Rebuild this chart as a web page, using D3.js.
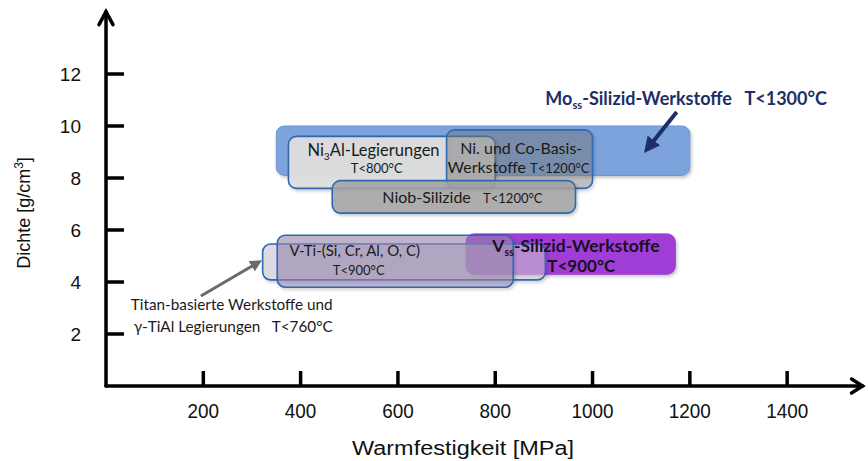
<!DOCTYPE html>
<html><head><meta charset="utf-8">
<script src="https://cdn.jsdelivr.net/npm/d3@7/dist/d3.min.js"></script>
<style>
body{margin:0;background:#fff;}
svg{display:block;}
</style></head>
<body>
<svg id="chart" width="868" height="461"></svg>
<script>
// ---- data ----
const materials   = ["Mo_ss-Silizid", "Ni3Al", "NiCo", "Niob", "V_ss", "Titan", "VTi"];
const strengthMin = [350, 375, 700, 465, 740, 322, 352];
const strengthMax = [1200, 800, 1000, 965, 1170, 903, 837];
const densityMin  = [8.1, 7.6, 7.6, 6.65, 4.3, 4.08, 3.8];
const densityMax  = [10.0, 9.6, 9.85, 7.9, 5.85, 5.46, 5.8];
const xTicks = [200, 400, 600, 800, 1000, 1200, 1400];
const yTicks = [2, 4, 6, 8, 10, 12];
const xTitle = "Warmfestigkeit [MPa]";

const svg = d3.select("#chart");
const x = d3.scaleLinear().domain([0, 1560]).range([106, 865]);
const y = d3.scaleLinear().domain([0, 14.5]).range([386, 9]);

const defs = svg.append("defs");
const sh = defs.append("filter").attr("id","sh").attr("x","-10%").attr("y","-20%").attr("width","130%").attr("height","160%");
sh.append("feDropShadow").attr("dx",1.5).attr("dy",2).attr("stdDeviation",1.5).attr("flood-color","#000").attr("flood-opacity",0.22);
defs.append("marker").attr("id","ah").attr("viewBox","0 0 10 10").attr("refX",5).attr("refY",5)
  .attr("markerWidth",4).attr("markerHeight",4).attr("orient","auto")
  .append("path").attr("d","M0,0 L10,5 L0,10 z").attr("fill","#1c2f66");
defs.append("marker").attr("id","ahg").attr("viewBox","0 0 10 10").attr("refX",5).attr("refY",5)
  .attr("markerWidth",4).attr("markerHeight",4).attr("orient","auto")
  .append("path").attr("d","M0,0 L10,5 L0,10 z").attr("fill","#6b6b6b");

// ---- boxes ----
const styles = {
  "Mo_ss-Silizid": {fill:"#7ca3dc", op:1,    stroke:"#6d94cf", sw:1},
  "Ni3Al":         {fill:"#dedede", op:0.95, stroke:"#2e67b1", sw:1.6},
  "NiCo":          {fill:"#7a7a7a", op:0.42, stroke:"#2e67b1", sw:1.6},
  "Niob":          {fill:"#a3a3a3", op:0.85, stroke:"#2e67b1", sw:1.6},
  "V_ss":          {fill:"#a03dd6", op:1,    stroke:"#9a36cc", sw:1},
  "Titan":         {fill:"#d0cbd8", op:0.55, stroke:"#2e67b1", sw:1.6},
  "VTi":           {fill:"#9a88b2", op:0.55, stroke:"#2e67b1", sw:1.6}
};
const boxes = materials.map((m,i)=>({m, x0:strengthMin[i], x1:strengthMax[i], y0:densityMin[i], y1:densityMax[i]}));
svg.append("g").selectAll("rect").data(boxes).join("rect")
  .attr("x", d=>x(d.x0)).attr("y", d=>y(d.y1))
  .attr("width", d=>x(d.x1)-x(d.x0)).attr("height", d=>y(d.y0)-y(d.y1))
  .attr("rx", 8).attr("ry", 8)
  .attr("fill", d=>styles[d.m].fill).attr("fill-opacity", d=>styles[d.m].op)
  .attr("stroke", d=>styles[d.m].stroke).attr("stroke-width", d=>styles[d.m].sw)
  .attr("filter","url(#sh)");

// ---- axes ----
const ax = svg.append("g").attr("stroke","#000").attr("stroke-width",3.5).attr("fill","none").attr("stroke-linecap","round");
ax.append("line").attr("x1",x(0)).attr("x2",x(0)).attr("y1",y(0)).attr("y2",y(14.4));
ax.append("line").attr("x1",x(0)).attr("x2",x(1555)).attr("y1",y(0)).attr("y2",y(0));
ax.append("path").attr("d",`M${x(0)-7},${y(14.4)+13} L${x(0)},${y(14.4)} L${x(0)+7},${y(14.4)+13}`).attr("stroke-linejoin","miter");
ax.append("path").attr("d",`M${x(1555)-11},${y(0)-7} L${x(1555)},${y(0)} L${x(1555)-11},${y(0)+7}`);
ax.selectAll(".yt").data(yTicks).join("line").attr("x1",x(0)).attr("x2",x(0)+18).attr("y1",d=>y(d)).attr("y2",d=>y(d)).attr("stroke-linecap","butt");
ax.selectAll(".xt").data(xTicks).join("line").attr("x1",d=>x(d)).attr("x2",d=>x(d)).attr("y1",y(0)).attr("y2",y(0)-15).attr("stroke-linecap","butt");

const axFont = "'Liberation Sans', Arial, sans-serif";
svg.append("g").selectAll("text").data(yTicks).join("text")
  .attr("x", 81).attr("y", d=>y(d)+7).attr("text-anchor","end")
  .attr("font-family",axFont).attr("font-size",19).attr("fill","#111").text(d=>d);
svg.append("g").selectAll("text").data(xTicks).join("text")
  .attr("transform", d=>`translate(${x(d)},418) scale(0.9,1)`).attr("text-anchor","middle")
  .attr("font-family",axFont).attr("font-size",21).attr("fill","#111").text(d=>d);
svg.append("text").attr("x",352).attr("y",455)
  .attr("textLength",222).attr("lengthAdjust","spacingAndGlyphs")
  .attr("font-family",axFont).attr("font-size",20).attr("fill","#111").text(xTitle);
const yt = svg.append("text").attr("transform","translate(30,213) rotate(-90)").attr("text-anchor","middle")
  .attr("font-family",axFont).attr("font-size",18).attr("fill","#111");
yt.append("tspan").text("Dichte [g/cm");
yt.append("tspan").attr("font-size",12).attr("dy",-7).text("3");
yt.append("tspan").attr("dy",7).text("]");

// ---- labels ----
const lf = "Lato, 'Open Sans', sans-serif";
function lbl(px, py, parts, opt){
  const t = svg.append("text").attr("x",x(px)).attr("y",y(py)).attr("font-family",lf)
    .attr("font-size",opt.size).attr("font-weight",opt.bold?"bold":"normal").attr("fill",opt.color||"#1a1a1a");
  parts.forEach(p=>{
    const s = t.append("tspan").text(p.t);
    if(p.sub){ s.attr("font-size",opt.size*0.62).attr("dy",4); }
    if(p.after){ s.attr("dy",-4); }
    if(p.size){ s.attr("font-size",p.size); }
  });
  return t;
}
lbl(903, 10.8, [{t:"Mo"},{t:"ss",sub:true},{t:"-Silizid-Werkstoffe\u00a0\u00a0 T<1300\u00b0C",after:true}], {size:18,bold:true,color:"#1c2f66"});
lbl(414, 8.83, [{t:"Ni"},{t:"3",sub:true},{t:"Al-Legierungen",after:true}], {size:16.5});
lbl(503, 8.19, [{t:"T<800\u00b0C"}], {size:13});
lbl(728, 8.92, [{t:"Ni. und Co-Basis-"}], {size:16});
lbl(702, 8.19, [{t:"Werkstoffe "},{t:"T<1200\u00b0C",size:13}], {size:16});
lbl(568, 7.04, [{t:"Niob-Silizide\u00a0\u00a0 "},{t:"T<1200\u00b0C",size:13}], {size:16});
lbl(377, 5.0, [{t:"V-Ti-(Si, Cr, Al, O, C)"}], {size:15});
lbl(466, 4.27, [{t:"T<900\u00b0C"}], {size:13});
lbl(794, 5.15, [{t:"V"},{t:"ss",sub:true},{t:"-Silizid-Werkstoffe",after:true}], {size:17.5,bold:true,color:"#1a1022"});
lbl(907, 4.38, [{t:"T<900\u00b0C"}], {size:17,bold:true,color:"#1a1022"});
lbl(51, 2.92, [{t:"Titan-basierte Werkstoffe und"}], {size:15.3});
lbl(57, 2.08, [{t:"\u03b3-TiAl Legierungen\u00a0\u00a0 T<760\u00b0C"}], {size:15.3});

// ---- arrows ----
svg.append("line").attr("x1",x(1173)).attr("y1",y(10.54)).attr("x2",x(1116)).attr("y2",y(9.2))
  .attr("stroke","#1c2f66").attr("stroke-width",4).attr("marker-end","url(#ah)");
svg.append("line").attr("x1",x(195)).attr("y1",y(3.46)).attr("x2",x(310)).attr("y2",y(4.72))
  .attr("stroke","#6b6b6b").attr("stroke-width",3).attr("marker-end","url(#ahg)");
</script>
</body></html>
